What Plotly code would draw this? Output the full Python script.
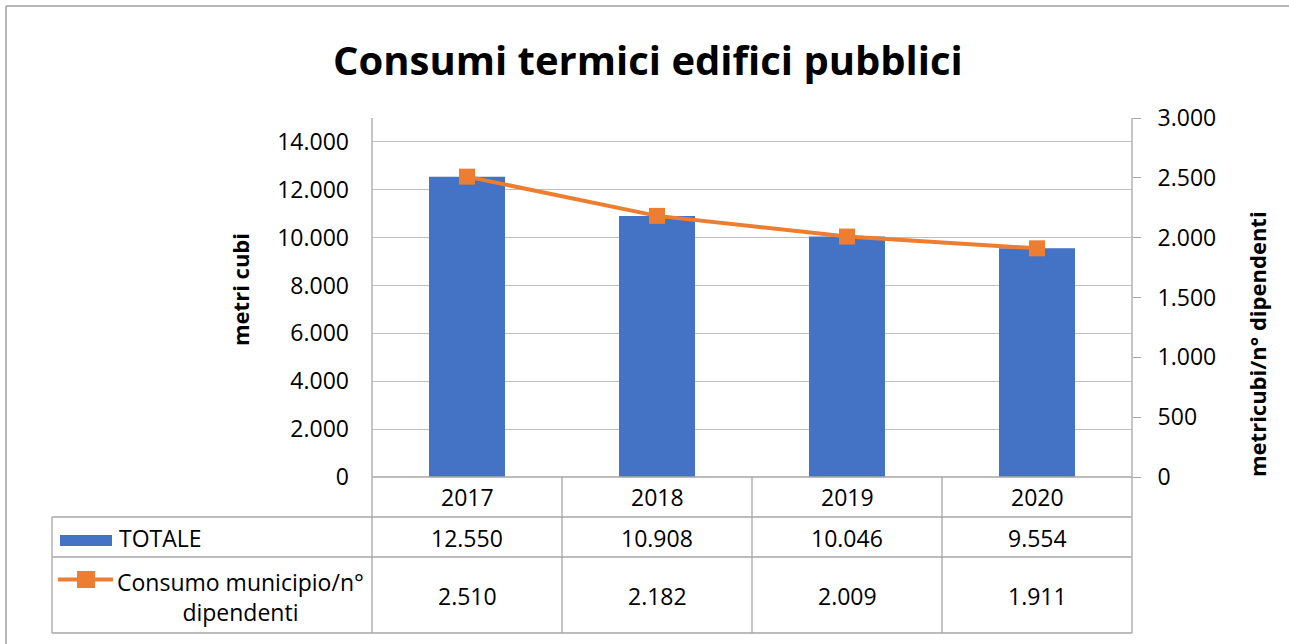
import plotly.graph_objects as go

# ---- data ----
years = ["2017", "2018", "2019", "2020"]
totale = [12550, 10908, 10046, 9554]
consumo_per_dip = [2510, 2182, 2009, 1911]
series_names = ["TOTALE", "Consumo municipio/n°<br>dipendenti"]
title_text = "Consumi termici edifici pubblici"
left_title = "metri cubi"
right_title = "metricubi/n° dipendenti"
left_ticks = [0, 2000, 4000, 6000, 8000, 10000, 12000, 14000]
right_ticks = [0, 500, 1000, 1500, 2000, 2500, 3000]

W, H = 1289, 644
FONT = "Open Sans"
BLUE = "#4472C4"
ORANGE = "#ED7D31"
GRID = "#BFBFBF"
LINEC = "#A6A6A6"
FS = 23


def px(x):
    return x / W


def py(y):
    return 1 - y / H


def fmt(v):
    return f"{v:,}".replace(",", ".")


# plot area in pixels
X0, X1, Y0, Y1 = 372, 1132, 118, 477
ROW1, ROW2, ROW3 = 517, 557, 633
LEG_X = 52

fig = go.Figure()
fig.add_trace(go.Bar(
    x=years, y=totale, name="TOTALE", marker_color=BLUE, width=0.4,
    marker_line_width=0, yaxis="y", showlegend=False,
))
fig.add_trace(go.Scatter(
    x=years, y=consumo_per_dip, name="Consumo", yaxis="y2", mode="lines+markers",
    line=dict(color=ORANGE, width=4),
    marker=dict(symbol="square", size=16, color=ORANGE), showlegend=False,
))

shapes = []


def hline(y, xa, xb, color=LINEC, w=1.3):
    shapes.append(dict(type="line", xref="paper", yref="paper", x0=px(xa), x1=px(xb),
                       y0=py(y), y1=py(y), line=dict(color=color, width=w)))


def vline(x, ya, yb, color=LINEC, w=1.3):
    shapes.append(dict(type="line", xref="paper", yref="paper", x0=px(x), x1=px(x),
                       y0=py(ya), y1=py(yb), line=dict(color=color, width=w)))


# outer chart border (top/left visible)
hline(6, 6, W + 5, "#A0A0A0", 1.5)
vline(6, 6, H + 5, "#A0A0A0", 1.5)

# data table lines
hline(Y1, X0, X1)
hline(ROW1, LEG_X, X1)
hline(ROW2, LEG_X, X1)
hline(ROW3, LEG_X, X1)
vline(LEG_X, ROW1, ROW3)
vline(X0, Y0, ROW3)
vline(X1, Y0, ROW3)
ncat = len(years)
cw = (X1 - X0) / ncat
for i in range(1, ncat):
    vline(X0 + i * cw, Y1, ROW3)

# legend keys in table
shapes.append(dict(type="rect", xref="paper", yref="paper", x0=px(60), x1=px(112),
                   y0=py(546), y1=py(535), fillcolor=BLUE, line=dict(width=0)))
shapes.append(dict(type="line", xref="paper", yref="paper", x0=px(58), x1=px(113),
                   y0=py(579.5), y1=py(579.5), line=dict(color=ORANGE, width=4)))
shapes.append(dict(type="rect", xref="paper", yref="paper", x0=px(77), x1=px(95),
                   y0=py(588), y1=py(571), fillcolor=ORANGE, line=dict(width=0)))

annotations = []


def text(x, y, s, size=FS, xanchor="center", bold=False, angle=0, align="center"):
    annotations.append(dict(x=px(x), y=py(y), xref="paper", yref="paper", text=s,
                            showarrow=False, xanchor=xanchor, yanchor="middle",
                            textangle=angle, align=align,
                            font=dict(family=FONT, size=size, color="#000000",
                                      weight="bold" if bold else "normal")))


# title
text(648, 60, title_text, size=40, bold=True)
# axis titles
text(240, 290, left_title, size=22, bold=True, angle=-90)
text(1257, 344, right_title, size=22, bold=True, angle=-90)

# table text
for i, yr in enumerate(years):
    cx = X0 + (i + 0.5) * cw
    text(cx, 497, yr)
    text(cx, 538, fmt(totale[i]))
    text(cx, 596, fmt(consumo_per_dip[i]))
text(117, 538, series_names[0], xanchor="left")
text(240, 597, series_names[1], align="center")

fig.update_layout(
    width=W, height=H,
    margin=dict(l=0, r=0, t=0, b=0, autoexpand=False),
    paper_bgcolor="white", plot_bgcolor="white",
    separators=",.",
    font=dict(family=FONT, size=FS, color="#000000"),
    bargap=0.6,
    hovermode=False,
    xaxis=dict(domain=[px(X0), px(X1)], showticklabels=False, showgrid=False,
               zeroline=False, showline=False, ticks="", range=[-0.5, 3.5]),
    yaxis=dict(domain=[py(Y1), py(Y0)], range=[0, 15000], tickvals=left_ticks,
               tickformat=",d", showgrid=True, gridcolor=GRID, gridwidth=1.3,
               zeroline=False, showline=False, ticks="", ticklabelstandoff=22,
               tickfont=dict(family=FONT, size=FS)),
    yaxis2=dict(overlaying="y", side="right", range=[0, 3000], tickvals=right_ticks,
                tickformat=",d", showgrid=False, zeroline=False, showline=False,
                ticks="outside", ticklen=8, tickcolor=LINEC, tickwidth=1.3,
                ticklabelstandoff=12, tickfont=dict(family=FONT, size=FS)),
    shapes=shapes,
    annotations=annotations,
)

fig.write_html("out.html", config={"displayModeBar": False},
               post_script="document.body.style.margin='0';document.body.style.overflow='hidden';")
